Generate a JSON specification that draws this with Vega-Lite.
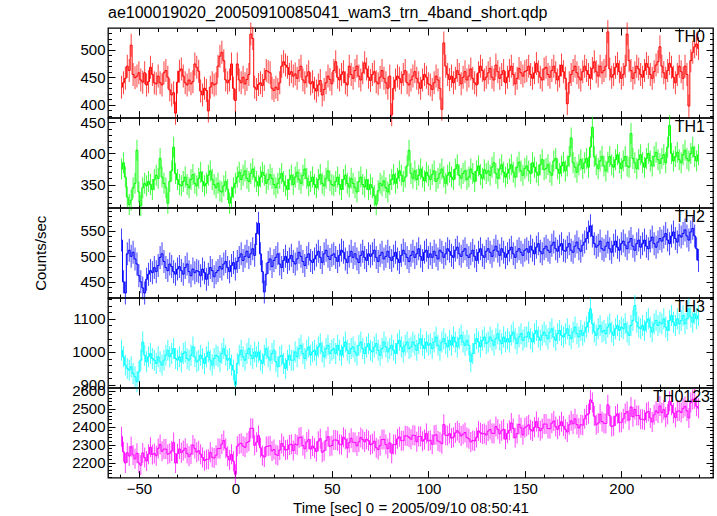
{
"$schema": "https://vega.github.io/schema/vega-lite/v6.json",
"padding": {"left": 33, "top": 4, "right": 6, "bottom": 2},
"title": {"text": "ae100019020_20050910085041_wam3_trn_4band_short.qdp", "anchor": "start", "frame": "group", "fontSize": 16, "fontWeight": "normal", "font": "Liberation Sans", "color": "black", "offset": -1},
"data": {"values": [
{"t":-59,"TH0":432,"TH1":375,"TH2":532,"TH3":1005,"TH0123":2344},
{"t":-58,"TH0":440,"TH1":385,"TH2":450,"TH3":985,"TH0123":2260},
{"t":-57,"TH0":448,"TH1":362,"TH2":428,"TH3":960,"TH0123":2198},
{"t":-56,"TH0":470,"TH1":330,"TH2":505,"TH3":950,"TH0123":2255},
{"t":-55,"TH0":462,"TH1":318,"TH2":512,"TH3":945,"TH0123":2237},
{"t":-54,"TH0":508,"TH1":325,"TH2":500,"TH3":955,"TH0123":2288},
{"t":-53,"TH0":455,"TH1":345,"TH2":508,"TH3":935,"TH0123":2243},
{"t":-52,"TH0":449,"TH1":352,"TH2":495,"TH3":925,"TH0123":2221},
{"t":-51,"TH0":452,"TH1":405,"TH2":485,"TH3":910,"TH0123":2252},
{"t":-50,"TH0":458,"TH1":338,"TH2":462,"TH3":940,"TH0123":2198},
{"t":-49,"TH0":445,"TH1":316,"TH2":450,"TH3":975,"TH0123":2186},
{"t":-48,"TH0":441,"TH1":345,"TH2":438,"TH3":1030,"TH0123":2254},
{"t":-47,"TH0":458,"TH1":352,"TH2":428,"TH3":990,"TH0123":2228},
{"t":-46,"TH0":436,"TH1":348,"TH2":455,"TH3":970,"TH0123":2209},
{"t":-45,"TH0":442,"TH1":355,"TH2":465,"TH3":985,"TH0123":2247},
{"t":-44,"TH0":468,"TH1":350,"TH2":472,"TH3":995,"TH0123":2285},
{"t":-43,"TH0":455,"TH1":342,"TH2":468,"TH3":980,"TH0123":2245},
{"t":-42,"TH0":440,"TH1":358,"TH2":478,"TH3":975,"TH0123":2251},
{"t":-41,"TH0":438,"TH1":365,"TH2":470,"TH3":965,"TH0123":2238},
{"t":-40,"TH0":452,"TH1":360,"TH2":482,"TH3":985,"TH0123":2279},
{"t":-39,"TH0":440,"TH1":392,"TH2":498,"TH3":970,"TH0123":2300},
{"t":-38,"TH0":436,"TH1":362,"TH2":505,"TH3":960,"TH0123":2263},
{"t":-37,"TH0":458,"TH1":352,"TH2":490,"TH3":975,"TH0123":2275},
{"t":-36,"TH0":462,"TH1":345,"TH2":478,"TH3":990,"TH0123":2275},
{"t":-35,"TH0":450,"TH1":320,"TH2":472,"TH3":1005,"TH0123":2247},
{"t":-34,"TH0":427,"TH1":355,"TH2":485,"TH3":985,"TH0123":2252},
{"t":-33,"TH0":418,"TH1":372,"TH2":480,"TH3":995,"TH0123":2265},
{"t":-32,"TH0":422,"TH1":410,"TH2":470,"TH3":1010,"TH0123":2312},
{"t":-31,"TH0":385,"TH1":368,"TH2":465,"TH3":980,"TH0123":2198},
{"t":-30,"TH0":441,"TH1":358,"TH2":475,"TH3":975,"TH0123":2249},
{"t":-29,"TH0":461,"TH1":350,"TH2":480,"TH3":985,"TH0123":2276},
{"t":-28,"TH0":465,"TH1":348,"TH2":472,"TH3":970,"TH0123":2255},
{"t":-27,"TH0":452,"TH1":355,"TH2":465,"TH3":995,"TH0123":2267},
{"t":-26,"TH0":440,"TH1":362,"TH2":478,"TH3":1000,"TH0123":2280},
{"t":-25,"TH0":436,"TH1":350,"TH2":485,"TH3":980,"TH0123":2251},
{"t":-24,"TH0":445,"TH1":345,"TH2":470,"TH3":975,"TH0123":2235},
{"t":-23,"TH0":438,"TH1":358,"TH2":462,"TH3":990,"TH0123":2248},
{"t":-22,"TH0":442,"TH1":366,"TH2":475,"TH3":1015,"TH0123":2298},
{"t":-21,"TH0":474,"TH1":352,"TH2":468,"TH3":985,"TH0123":2279},
{"t":-20,"TH0":468,"TH1":348,"TH2":472,"TH3":970,"TH0123":2258},
{"t":-19,"TH0":461,"TH1":360,"TH2":470,"TH3":975,"TH0123":2266},
{"t":-18,"TH0":425,"TH1":370,"TH2":462,"TH3":990,"TH0123":2247},
{"t":-17,"TH0":418,"TH1":355,"TH2":475,"TH3":980,"TH0123":2228},
{"t":-16,"TH0":430,"TH1":348,"TH2":468,"TH3":965,"TH0123":2211},
{"t":-15,"TH0":426,"TH1":352,"TH2":455,"TH3":985,"TH0123":2218},
{"t":-14,"TH0":389,"TH1":365,"TH2":465,"TH3":1000,"TH0123":2219},
{"t":-13,"TH0":432,"TH1":372,"TH2":478,"TH3":975,"TH0123":2257},
{"t":-12,"TH0":440,"TH1":358,"TH2":472,"TH3":960,"TH0123":2230},
{"t":-11,"TH0":436,"TH1":350,"TH2":460,"TH3":980,"TH0123":2226},
{"t":-10,"TH0":438,"TH1":345,"TH2":468,"TH3":990,"TH0123":2241},
{"t":-9,"TH0":470,"TH1":352,"TH2":472,"TH3":985,"TH0123":2279},
{"t":-8,"TH0":488,"TH1":340,"TH2":480,"TH3":970,"TH0123":2278},
{"t":-7,"TH0":495,"TH1":338,"TH2":475,"TH3":995,"TH0123":2303},
{"t":-6,"TH0":480,"TH1":348,"TH2":485,"TH3":1010,"TH0123":2323},
{"t":-5,"TH0":445,"TH1":355,"TH2":490,"TH3":990,"TH0123":2280},
{"t":-4,"TH0":440,"TH1":342,"TH2":478,"TH3":975,"TH0123":2235},
{"t":-3,"TH0":445,"TH1":320,"TH2":470,"TH3":980,"TH0123":2215},
{"t":-2,"TH0":474,"TH1":330,"TH2":482,"TH3":960,"TH0123":2246},
{"t":-1,"TH0":430,"TH1":345,"TH2":488,"TH3":945,"TH0123":2208},
{"t":0,"TH0":408,"TH1":352,"TH2":475,"TH3":900,"TH0123":2135},
{"t":1,"TH0":474,"TH1":362,"TH2":490,"TH3":965,"TH0123":2291},
{"t":2,"TH0":445,"TH1":370,"TH2":498,"TH3":990,"TH0123":2303},
{"t":3,"TH0":440,"TH1":358,"TH2":505,"TH3":1005,"TH0123":2308},
{"t":4,"TH0":450,"TH1":365,"TH2":492,"TH3":985,"TH0123":2292},
{"t":5,"TH0":438,"TH1":372,"TH2":500,"TH3":975,"TH0123":2285},
{"t":6,"TH0":446,"TH1":360,"TH2":510,"TH3":995,"TH0123":2311},
{"t":7,"TH0":455,"TH1":355,"TH2":498,"TH3":1010,"TH0123":2318},
{"t":8,"TH0":528,"TH1":368,"TH2":505,"TH3":990,"TH0123":2391},
{"t":9,"TH0":520,"TH1":375,"TH2":515,"TH3":980,"TH0123":2390},
{"t":10,"TH0":432,"TH1":362,"TH2":502,"TH3":1000,"TH0123":2296},
{"t":11,"TH0":428,"TH1":355,"TH2":545,"TH3":985,"TH0123":2313},
{"t":12,"TH0":437,"TH1":348,"TH2":565,"TH3":1000,"TH0123":2350},
{"t":13,"TH0":440,"TH1":362,"TH2":505,"TH3":975,"TH0123":2282},
{"t":14,"TH0":435,"TH1":370,"TH2":470,"TH3":965,"TH0123":2240},
{"t":15,"TH0":446,"TH1":365,"TH2":430,"TH3":990,"TH0123":2231},
{"t":16,"TH0":462,"TH1":352,"TH2":465,"TH3":1010,"TH0123":2289},
{"t":17,"TH0":460,"TH1":358,"TH2":488,"TH3":985,"TH0123":2291},
{"t":18,"TH0":458,"TH1":366,"TH2":495,"TH3":975,"TH0123":2294},
{"t":19,"TH0":430,"TH1":360,"TH2":480,"TH3":995,"TH0123":2265},
{"t":20,"TH0":426,"TH1":350,"TH2":492,"TH3":1005,"TH0123":2273},
{"t":21,"TH0":432,"TH1":345,"TH2":498,"TH3":970,"TH0123":2245},
{"t":22,"TH0":428,"TH1":352,"TH2":505,"TH3":955,"TH0123":2240},
{"t":23,"TH0":440,"TH1":360,"TH2":485,"TH3":985,"TH0123":2270},
{"t":24,"TH0":470,"TH1":368,"TH2":478,"TH3":990,"TH0123":2306},
{"t":25,"TH0":478,"TH1":355,"TH2":492,"TH3":965,"TH0123":2290},
{"t":26,"TH0":472,"TH1":348,"TH2":500,"TH3":950,"TH0123":2270},
{"t":27,"TH0":468,"TH1":342,"TH2":488,"TH3":975,"TH0123":2273},
{"t":28,"TH0":455,"TH1":358,"TH2":495,"TH3":990,"TH0123":2298},
{"t":29,"TH0":460,"TH1":365,"TH2":502,"TH3":975,"TH0123":2302},
{"t":30,"TH0":452,"TH1":350,"TH2":490,"TH3":975,"TH0123":2267},
{"t":31,"TH0":456,"TH1":362,"TH2":485,"TH3":1000,"TH0123":2303},
{"t":32,"TH0":448,"TH1":370,"TH2":495,"TH3":985,"TH0123":2298},
{"t":33,"TH0":462,"TH1":358,"TH2":508,"TH3":1010,"TH0123":2338},
{"t":34,"TH0":470,"TH1":352,"TH2":500,"TH3":1020,"TH0123":2342},
{"t":35,"TH0":445,"TH1":365,"TH2":490,"TH3":995,"TH0123":2295},
{"t":36,"TH0":440,"TH1":375,"TH2":482,"TH3":980,"TH0123":2277},
{"t":37,"TH0":452,"TH1":360,"TH2":498,"TH3":1005,"TH0123":2315},
{"t":38,"TH0":460,"TH1":348,"TH2":505,"TH3":1015,"TH0123":2328},
{"t":39,"TH0":438,"TH1":355,"TH2":492,"TH3":990,"TH0123":2275},
{"t":40,"TH0":442,"TH1":362,"TH2":488,"TH3":1000,"TH0123":2292},
{"t":41,"TH0":430,"TH1":350,"TH2":495,"TH3":1005,"TH0123":2280},
{"t":42,"TH0":425,"TH1":345,"TH2":502,"TH3":990,"TH0123":2262},
{"t":43,"TH0":436,"TH1":358,"TH2":510,"TH3":1015,"TH0123":2319},
{"t":44,"TH0":444,"TH1":366,"TH2":498,"TH3":1025,"TH0123":2333},
{"t":45,"TH0":418,"TH1":352,"TH2":488,"TH3":1000,"TH0123":2258},
{"t":46,"TH0":428,"TH1":348,"TH2":505,"TH3":985,"TH0123":2266},
{"t":47,"TH0":440,"TH1":360,"TH2":512,"TH3":1010,"TH0123":2322},
{"t":48,"TH0":452,"TH1":372,"TH2":500,"TH3":1020,"TH0123":2344},
{"t":49,"TH0":446,"TH1":356,"TH2":494,"TH3":995,"TH0123":2291},
{"t":50,"TH0":438,"TH1":350,"TH2":502,"TH3":1005,"TH0123":2295},
{"t":51,"TH0":462,"TH1":348,"TH2":505,"TH3":1010,"TH0123":2325},
{"t":52,"TH0":478,"TH1":355,"TH2":498,"TH3":995,"TH0123":2326},
{"t":53,"TH0":450,"TH1":362,"TH2":490,"TH3":1020,"TH0123":2322},
{"t":54,"TH0":445,"TH1":350,"TH2":502,"TH3":1005,"TH0123":2302},
{"t":55,"TH0":455,"TH1":342,"TH2":512,"TH3":990,"TH0123":2299},
{"t":56,"TH0":460,"TH1":358,"TH2":508,"TH3":1015,"TH0123":2341},
{"t":57,"TH0":440,"TH1":365,"TH2":495,"TH3":1030,"TH0123":2330},
{"t":58,"TH0":436,"TH1":352,"TH2":488,"TH3":1005,"TH0123":2281},
{"t":59,"TH0":470,"TH1":346,"TH2":500,"TH3":995,"TH0123":2311},
{"t":60,"TH0":455,"TH1":360,"TH2":510,"TH3":1010,"TH0123":2335},
{"t":61,"TH0":448,"TH1":352,"TH2":498,"TH3":1015,"TH0123":2313},
{"t":62,"TH0":462,"TH1":345,"TH2":505,"TH3":1000,"TH0123":2312},
{"t":63,"TH0":470,"TH1":338,"TH2":495,"TH3":990,"TH0123":2293},
{"t":64,"TH0":452,"TH1":355,"TH2":488,"TH3":1020,"TH0123":2315},
{"t":65,"TH0":445,"TH1":362,"TH2":502,"TH3":1030,"TH0123":2339},
{"t":66,"TH0":458,"TH1":350,"TH2":510,"TH3":1010,"TH0123":2328},
{"t":67,"TH0":476,"TH1":346,"TH2":498,"TH3":995,"TH0123":2315},
{"t":68,"TH0":465,"TH1":358,"TH2":492,"TH3":1015,"TH0123":2330},
{"t":69,"TH0":450,"TH1":342,"TH2":505,"TH3":1025,"TH0123":2322},
{"t":70,"TH0":444,"TH1":350,"TH2":500,"TH3":1005,"TH0123":2299},
{"t":71,"TH0":455,"TH1":345,"TH2":505,"TH3":1000,"TH0123":2305},
{"t":72,"TH0":460,"TH1":332,"TH2":512,"TH3":1015,"TH0123":2319},
{"t":73,"TH0":442,"TH1":318,"TH2":498,"TH3":1025,"TH0123":2283},
{"t":74,"TH0":438,"TH1":340,"TH2":490,"TH3":1005,"TH0123":2273},
{"t":75,"TH0":450,"TH1":352,"TH2":502,"TH3":990,"TH0123":2294},
{"t":76,"TH0":462,"TH1":348,"TH2":508,"TH3":1010,"TH0123":2328},
{"t":77,"TH0":448,"TH1":356,"TH2":495,"TH3":1030,"TH0123":2329},
{"t":78,"TH0":440,"TH1":345,"TH2":500,"TH3":1015,"TH0123":2300},
{"t":79,"TH0":430,"TH1":338,"TH2":510,"TH3":1000,"TH0123":2278},
{"t":80,"TH0":452,"TH1":350,"TH2":498,"TH3":1010,"TH0123":2310},
{"t":81,"TH0":382,"TH1":358,"TH2":492,"TH3":1020,"TH0123":2252},
{"t":82,"TH0":430,"TH1":366,"TH2":500,"TH3":1005,"TH0123":2301},
{"t":83,"TH0":445,"TH1":352,"TH2":508,"TH3":995,"TH0123":2300},
{"t":84,"TH0":452,"TH1":360,"TH2":495,"TH3":1025,"TH0123":2332},
{"t":85,"TH0":448,"TH1":372,"TH2":488,"TH3":1035,"TH0123":2343},
{"t":86,"TH0":440,"TH1":365,"TH2":502,"TH3":1015,"TH0123":2322},
{"t":87,"TH0":455,"TH1":355,"TH2":512,"TH3":1000,"TH0123":2322},
{"t":88,"TH0":462,"TH1":362,"TH2":505,"TH3":1020,"TH0123":2349},
{"t":89,"TH0":440,"TH1":380,"TH2":498,"TH3":1030,"TH0123":2348},
{"t":90,"TH0":436,"TH1":405,"TH2":490,"TH3":1010,"TH0123":2341},
{"t":91,"TH0":445,"TH1":368,"TH2":502,"TH3":1015,"TH0123":2330},
{"t":92,"TH0":452,"TH1":360,"TH2":510,"TH3":1030,"TH0123":2352},
{"t":93,"TH0":460,"TH1":372,"TH2":498,"TH3":1020,"TH0123":2350},
{"t":94,"TH0":448,"TH1":358,"TH2":505,"TH3":1005,"TH0123":2316},
{"t":95,"TH0":440,"TH1":365,"TH2":515,"TH3":1025,"TH0123":2345},
{"t":96,"TH0":430,"TH1":375,"TH2":500,"TH3":1040,"TH0123":2345},
{"t":97,"TH0":445,"TH1":362,"TH2":492,"TH3":1020,"TH0123":2319},
{"t":98,"TH0":455,"TH1":356,"TH2":508,"TH3":1010,"TH0123":2329},
{"t":99,"TH0":450,"TH1":370,"TH2":512,"TH3":1030,"TH0123":2362},
{"t":100,"TH0":438,"TH1":364,"TH2":498,"TH3":1020,"TH0123":2320},
{"t":101,"TH0":436,"TH1":358,"TH2":505,"TH3":1025,"TH0123":2324},
{"t":102,"TH0":428,"TH1":366,"TH2":498,"TH3":1010,"TH0123":2302},
{"t":103,"TH0":440,"TH1":372,"TH2":510,"TH3":1030,"TH0123":2352},
{"t":104,"TH0":452,"TH1":355,"TH2":502,"TH3":1045,"TH0123":2354},
{"t":105,"TH0":445,"TH1":360,"TH2":495,"TH3":1020,"TH0123":2320},
{"t":106,"TH0":430,"TH1":368,"TH2":512,"TH3":1005,"TH0123":2315},
{"t":107,"TH0":392,"TH1":375,"TH2":508,"TH3":1030,"TH0123":2305},
{"t":108,"TH0":512,"TH1":362,"TH2":498,"TH3":1040,"TH0123":2412},
{"t":109,"TH0":470,"TH1":352,"TH2":505,"TH3":1025,"TH0123":2352},
{"t":110,"TH0":455,"TH1":365,"TH2":515,"TH3":1015,"TH0123":2350},
{"t":111,"TH0":446,"TH1":370,"TH2":510,"TH3":1035,"TH0123":2361},
{"t":112,"TH0":452,"TH1":362,"TH2":502,"TH3":1020,"TH0123":2336},
{"t":113,"TH0":440,"TH1":358,"TH2":498,"TH3":1045,"TH0123":2341},
{"t":114,"TH0":448,"TH1":375,"TH2":512,"TH3":1030,"TH0123":2365},
{"t":115,"TH0":462,"TH1":382,"TH2":518,"TH3":1015,"TH0123":2377},
{"t":116,"TH0":455,"TH1":365,"TH2":505,"TH3":1040,"TH0123":2365},
{"t":117,"TH0":438,"TH1":360,"TH2":500,"TH3":1050,"TH0123":2348},
{"t":118,"TH0":450,"TH1":368,"TH2":510,"TH3":1030,"TH0123":2358},
{"t":119,"TH0":460,"TH1":372,"TH2":515,"TH3":1020,"TH0123":2367},
{"t":120,"TH0":445,"TH1":358,"TH2":502,"TH3":1035,"TH0123":2340},
{"t":121,"TH0":452,"TH1":362,"TH2":498,"TH3":1020,"TH0123":2332},
{"t":122,"TH0":465,"TH1":375,"TH2":505,"TH3":970,"TH0123":2315},
{"t":123,"TH0":448,"TH1":368,"TH2":512,"TH3":995,"TH0123":2323},
{"t":124,"TH0":440,"TH1":355,"TH2":500,"TH3":1025,"TH0123":2320},
{"t":125,"TH0":436,"TH1":372,"TH2":492,"TH3":1040,"TH0123":2340},
{"t":126,"TH0":458,"TH1":380,"TH2":508,"TH3":1030,"TH0123":2376},
{"t":127,"TH0":470,"TH1":366,"TH2":515,"TH3":1015,"TH0123":2366},
{"t":128,"TH0":462,"TH1":360,"TH2":502,"TH3":1035,"TH0123":2359},
{"t":129,"TH0":445,"TH1":374,"TH2":498,"TH3":1045,"TH0123":2362},
{"t":130,"TH0":450,"TH1":368,"TH2":510,"TH3":1025,"TH0123":2353},
{"t":131,"TH0":458,"TH1":372,"TH2":515,"TH3":1030,"TH0123":2375},
{"t":132,"TH0":466,"TH1":365,"TH2":508,"TH3":1045,"TH0123":2384},
{"t":133,"TH0":450,"TH1":378,"TH2":500,"TH3":1035,"TH0123":2363},
{"t":134,"TH0":445,"TH1":385,"TH2":512,"TH3":1020,"TH0123":2362},
{"t":135,"TH0":472,"TH1":368,"TH2":520,"TH3":1040,"TH0123":2400},
{"t":136,"TH0":460,"TH1":360,"TH2":510,"TH3":1055,"TH0123":2385},
{"t":137,"TH0":448,"TH1":375,"TH2":502,"TH3":1035,"TH0123":2360},
{"t":138,"TH0":455,"TH1":382,"TH2":515,"TH3":1025,"TH0123":2377},
{"t":139,"TH0":462,"TH1":370,"TH2":508,"TH3":1045,"TH0123":2385},
{"t":140,"TH0":440,"TH1":362,"TH2":498,"TH3":1030,"TH0123":2330},
{"t":141,"TH0":450,"TH1":368,"TH2":505,"TH3":1040,"TH0123":2363},
{"t":142,"TH0":462,"TH1":375,"TH2":512,"TH3":1030,"TH0123":2379},
{"t":143,"TH0":470,"TH1":382,"TH2":518,"TH3":1050,"TH0123":2420},
{"t":144,"TH0":455,"TH1":370,"TH2":505,"TH3":1060,"TH0123":2390},
{"t":145,"TH0":438,"TH1":362,"TH2":498,"TH3":1040,"TH0123":2338},
{"t":146,"TH0":448,"TH1":378,"TH2":510,"TH3":1025,"TH0123":2361},
{"t":147,"TH0":466,"TH1":386,"TH2":515,"TH3":1045,"TH0123":2412},
{"t":148,"TH0":458,"TH1":372,"TH2":508,"TH3":1055,"TH0123":2393},
{"t":149,"TH0":452,"TH1":365,"TH2":502,"TH3":1035,"TH0123":2354},
{"t":150,"TH0":460,"TH1":376,"TH2":512,"TH3":1045,"TH0123":2393},
{"t":151,"TH0":462,"TH1":380,"TH2":515,"TH3":1045,"TH0123":2402},
{"t":152,"TH0":470,"TH1":372,"TH2":508,"TH3":1060,"TH0123":2410},
{"t":153,"TH0":455,"TH1":368,"TH2":520,"TH3":1040,"TH0123":2383},
{"t":154,"TH0":448,"TH1":385,"TH2":512,"TH3":1030,"TH0123":2375},
{"t":155,"TH0":458,"TH1":378,"TH2":505,"TH3":1055,"TH0123":2396},
{"t":156,"TH0":475,"TH1":370,"TH2":518,"TH3":1065,"TH0123":2428},
{"t":157,"TH0":460,"TH1":365,"TH2":525,"TH3":1045,"TH0123":2395},
{"t":158,"TH0":450,"TH1":382,"TH2":510,"TH3":1035,"TH0123":2377},
{"t":159,"TH0":445,"TH1":390,"TH2":505,"TH3":1050,"TH0123":2390},
{"t":160,"TH0":465,"TH1":374,"TH2":515,"TH3":1060,"TH0123":2414},
{"t":161,"TH0":468,"TH1":376,"TH2":520,"TH3":1050,"TH0123":2414},
{"t":162,"TH0":455,"TH1":382,"TH2":512,"TH3":1040,"TH0123":2389},
{"t":163,"TH0":450,"TH1":370,"TH2":508,"TH3":1060,"TH0123":2388},
{"t":164,"TH0":462,"TH1":365,"TH2":522,"TH3":1070,"TH0123":2419},
{"t":165,"TH0":470,"TH1":388,"TH2":528,"TH3":1045,"TH0123":2431},
{"t":166,"TH0":458,"TH1":392,"TH2":515,"TH3":1035,"TH0123":2400},
{"t":167,"TH0":445,"TH1":375,"TH2":510,"TH3":1055,"TH0123":2385},
{"t":168,"TH0":452,"TH1":368,"TH2":520,"TH3":1065,"TH0123":2405},
{"t":169,"TH0":472,"TH1":380,"TH2":525,"TH3":1050,"TH0123":2427},
{"t":170,"TH0":460,"TH1":386,"TH2":512,"TH3":1045,"TH0123":2403},
{"t":171,"TH0":448,"TH1":372,"TH2":510,"TH3":1055,"TH0123":2385},
{"t":172,"TH0":402,"TH1":380,"TH2":518,"TH3":1070,"TH0123":2370},
{"t":173,"TH0":440,"TH1":395,"TH2":525,"TH3":1050,"TH0123":2410},
{"t":174,"TH0":455,"TH1":425,"TH2":512,"TH3":1040,"TH0123":2432},
{"t":175,"TH0":462,"TH1":385,"TH2":508,"TH3":1060,"TH0123":2415},
{"t":176,"TH0":470,"TH1":378,"TH2":520,"TH3":1075,"TH0123":2443},
{"t":177,"TH0":458,"TH1":370,"TH2":528,"TH3":1055,"TH0123":2411},
{"t":178,"TH0":450,"TH1":382,"TH2":515,"TH3":1045,"TH0123":2392},
{"t":179,"TH0":445,"TH1":390,"TH2":510,"TH3":1065,"TH0123":2410},
{"t":180,"TH0":460,"TH1":376,"TH2":522,"TH3":1050,"TH0123":2408},
{"t":181,"TH0":470,"TH1":385,"TH2":528,"TH3":1060,"TH0123":2443},
{"t":182,"TH0":462,"TH1":392,"TH2":535,"TH3":1075,"TH0123":2464},
{"t":183,"TH0":455,"TH1":378,"TH2":548,"TH3":1090,"TH0123":2471},
{"t":184,"TH0":448,"TH1":410,"TH2":560,"TH3":1130,"TH0123":2548},
{"t":185,"TH0":466,"TH1":442,"TH2":540,"TH3":1085,"TH0123":2533},
{"t":186,"TH0":478,"TH1":395,"TH2":525,"TH3":1060,"TH0123":2458},
{"t":187,"TH0":460,"TH1":382,"TH2":518,"TH3":1050,"TH0123":2410},
{"t":188,"TH0":452,"TH1":376,"TH2":522,"TH3":1070,"TH0123":2420},
{"t":189,"TH0":470,"TH1":388,"TH2":530,"TH3":1080,"TH0123":2468},
{"t":190,"TH0":458,"TH1":395,"TH2":515,"TH3":1060,"TH0123":2428},
{"t":191,"TH0":462,"TH1":380,"TH2":512,"TH3":1065,"TH0123":2419},
{"t":192,"TH0":470,"TH1":372,"TH2":520,"TH3":1055,"TH0123":2417},
{"t":193,"TH0":532,"TH1":386,"TH2":528,"TH3":1075,"TH0123":2521},
{"t":194,"TH0":465,"TH1":395,"TH2":515,"TH3":1085,"TH0123":2460},
{"t":195,"TH0":450,"TH1":382,"TH2":508,"TH3":1060,"TH0123":2400},
{"t":196,"TH0":455,"TH1":378,"TH2":522,"TH3":1050,"TH0123":2405},
{"t":197,"TH0":468,"TH1":390,"TH2":530,"TH3":1070,"TH0123":2458},
{"t":198,"TH0":475,"TH1":398,"TH2":518,"TH3":1080,"TH0123":2471},
{"t":199,"TH0":460,"TH1":385,"TH2":512,"TH3":1065,"TH0123":2422},
{"t":200,"TH0":448,"TH1":376,"TH2":525,"TH3":1075,"TH0123":2424},
{"t":201,"TH0":455,"TH1":388,"TH2":530,"TH3":1070,"TH0123":2443},
{"t":202,"TH0":470,"TH1":395,"TH2":522,"TH3":1085,"TH0123":2472},
{"t":203,"TH0":528,"TH1":380,"TH2":515,"TH3":1060,"TH0123":2483},
{"t":204,"TH0":480,"TH1":378,"TH2":528,"TH3":1050,"TH0123":2436},
{"t":205,"TH0":462,"TH1":432,"TH2":535,"TH3":1080,"TH0123":2509},
{"t":206,"TH0":448,"TH1":392,"TH2":520,"TH3":1095,"TH0123":2455},
{"t":207,"TH0":458,"TH1":385,"TH2":512,"TH3":1140,"TH0123":2495},
{"t":208,"TH0":470,"TH1":376,"TH2":525,"TH3":1090,"TH0123":2461},
{"t":209,"TH0":465,"TH1":390,"TH2":532,"TH3":1075,"TH0123":2462},
{"t":210,"TH0":455,"TH1":398,"TH2":518,"TH3":1070,"TH0123":2441},
{"t":211,"TH0":450,"TH1":385,"TH2":525,"TH3":1080,"TH0123":2440},
{"t":212,"TH0":462,"TH1":378,"TH2":532,"TH3":1065,"TH0123":2437},
{"t":213,"TH0":475,"TH1":392,"TH2":520,"TH3":1090,"TH0123":2477},
{"t":214,"TH0":468,"TH1":400,"TH2":515,"TH3":1100,"TH0123":2483},
{"t":215,"TH0":455,"TH1":388,"TH2":530,"TH3":1075,"TH0123":2448},
{"t":216,"TH0":448,"TH1":380,"TH2":538,"TH3":1060,"TH0123":2426},
{"t":217,"TH0":460,"TH1":395,"TH2":525,"TH3":1085,"TH0123":2465},
{"t":218,"TH0":472,"TH1":402,"TH2":518,"TH3":1095,"TH0123":2487},
{"t":219,"TH0":478,"TH1":390,"TH2":528,"TH3":1080,"TH0123":2476},
{"t":220,"TH0":505,"TH1":384,"TH2":535,"TH3":1090,"TH0123":2514},
{"t":221,"TH0":470,"TH1":392,"TH2":530,"TH3":1085,"TH0123":2477},
{"t":222,"TH0":458,"TH1":398,"TH2":538,"TH3":1100,"TH0123":2494},
{"t":223,"TH0":448,"TH1":385,"TH2":545,"TH3":1075,"TH0123":2453},
{"t":224,"TH0":462,"TH1":410,"TH2":532,"TH3":1065,"TH0123":2469},
{"t":225,"TH0":475,"TH1":445,"TH2":525,"TH3":1095,"TH0123":2540},
{"t":226,"TH0":468,"TH1":400,"TH2":540,"TH3":1110,"TH0123":2518},
{"t":227,"TH0":450,"TH1":388,"TH2":548,"TH3":1090,"TH0123":2476},
{"t":228,"TH0":440,"TH1":395,"TH2":535,"TH3":1080,"TH0123":2450},
{"t":229,"TH0":455,"TH1":402,"TH2":528,"TH3":1100,"TH0123":2485},
{"t":230,"TH0":470,"TH1":390,"TH2":542,"TH3":1085,"TH0123":2487},
{"t":231,"TH0":460,"TH1":385,"TH2":538,"TH3":1095,"TH0123":2478},
{"t":232,"TH0":448,"TH1":398,"TH2":545,"TH3":1110,"TH0123":2501},
{"t":233,"TH0":470,"TH1":405,"TH2":552,"TH3":1085,"TH0123":2512},
{"t":234,"TH0":455,"TH1":392,"TH2":540,"TH3":1100,"TH0123":2487},
{"t":235,"TH0":398,"TH1":388,"TH2":532,"TH3":1130,"TH0123":2448},
{"t":236,"TH0":480,"TH1":400,"TH2":548,"TH3":1105,"TH0123":2533},
{"t":237,"TH0":495,"TH1":410,"TH2":555,"TH3":1090,"TH0123":2550},
{"t":238,"TH0":505,"TH1":395,"TH2":540,"TH3":1115,"TH0123":2555},
{"t":239,"TH0":510,"TH1":388,"TH2":515,"TH3":1100,"TH0123":2513},
{"t":240,"TH0":502,"TH1":398,"TH2":492,"TH3":1110,"TH0123":2502}
]},
"spacing": 0,
"bounds": "flush",
"vconcat": [
{"width": 605, "height": 89.6,
 "layer": [
  {"mark": {"type": "tick", "orient": "vertical", "size": 23, "thickness": 1, "color": "#ff0000", "opacity": 0.75},
   "encoding": {
    "x": {"field": "t", "type": "quantitative", "scale": {"domain": [-66, 247.5], "nice": false, "zero": false},
      "axis": {"orient": "bottom", "values": [-60,-50,-40,-30,-20,-10,0,10,20,30,40,50,60,70,80,90,100,110,120,130,140,150,160,170,180,190,200,210,220,230,240], "labels": false, "title": null, "tickSize": {"condition": {"test": "datum.value % 50 === 0", "value": -7}, "value": -3.5}}},
    "y": {"field": "TH0", "type": "quantitative", "scale": {"domain": [377, 539], "nice": false, "zero": false},
      "axis": {"orient": "left", "values": [380,390,400,410,420,430,440,450,460,470,480,490,500,510,520,530], "format": "d", "labelExpr": "datum.value % 50 === 0 ? datum.label : ''", "labelPadding": 10, "title": null, "tickSize": {"condition": {"test": "datum.value % 50 === 0", "value": -7}, "value": -3.5}}}
   }},
  {"mark": {"type": "line", "interpolate": "step", "color": "#ff0000", "strokeWidth": 1},
   "encoding": {
    "x": {"field": "t", "type": "quantitative",
      "axis": {"orient": "top", "values": [-60,-50,-40,-30,-20,-10,0,10,20,30,40,50,60,70,80,90,100,110,120,130,140,150,160,170,180,190,200,210,220,230,240], "labels": false, "title": null, "tickSize": {"condition": {"test": "datum.value % 50 === 0", "value": -7}, "value": -3.5}}},
    "y": {"field": "TH0", "type": "quantitative",
      "axis": {"orient": "right", "values": [380,390,400,410,420,430,440,450,460,470,480,490,500,510,520,530], "labels": false, "title": null, "tickSize": {"condition": {"test": "datum.value % 50 === 0", "value": -7}, "value": -3.5}}}
   }},
  {"data": {"values": [{"label": "TH0"}]},
   "mark": {"type": "text", "align": "right", "baseline": "top", "dx": -8, "dy": 1, "fontSize": 16, "font": "Liberation Sans", "color": "black"},
   "encoding": {"text": {"field": "label"}, "x": {"datum": 247.5, "type": "quantitative", "axis": null}, "y": {"datum": 539, "type": "quantitative", "axis": null}}}
 ],
 "resolve": {"axis": {"x": "independent", "y": "independent"}}
},
{"width": 605, "height": 89.6,
 "layer": [
  {"mark": {"type": "tick", "orient": "vertical", "size": 21, "thickness": 1, "color": "#00ff00", "opacity": 0.75},
   "encoding": {
    "x": {"field": "t", "type": "quantitative", "scale": {"domain": [-66, 247.5], "nice": false, "zero": false},
      "axis": {"orient": "bottom", "values": [-60,-50,-40,-30,-20,-10,0,10,20,30,40,50,60,70,80,90,100,110,120,130,140,150,160,170,180,190,200,210,220,230,240], "labels": false, "title": null, "tickSize": {"condition": {"test": "datum.value % 50 === 0", "value": -7}, "value": -3.5}}},
    "y": {"field": "TH1", "type": "quantitative", "scale": {"domain": [313, 457], "nice": false, "zero": false},
      "axis": {"orient": "left", "values": [320,330,340,350,360,370,380,390,400,410,420,430,440,450], "format": "d", "labelExpr": "datum.value % 50 === 0 ? datum.label : ''", "labelPadding": 10, "title": null, "tickSize": {"condition": {"test": "datum.value % 50 === 0", "value": -7}, "value": -3.5}}}
   }},
  {"mark": {"type": "line", "interpolate": "step", "color": "#00ff00", "strokeWidth": 1},
   "encoding": {
    "x": {"field": "t", "type": "quantitative",
      "axis": {"orient": "top", "values": [-60,-50,-40,-30,-20,-10,0,10,20,30,40,50,60,70,80,90,100,110,120,130,140,150,160,170,180,190,200,210,220,230,240], "labels": false, "title": null, "tickSize": {"condition": {"test": "datum.value % 50 === 0", "value": -7}, "value": -3.5}}},
    "y": {"field": "TH1", "type": "quantitative",
      "axis": {"orient": "right", "values": [320,330,340,350,360,370,380,390,400,410,420,430,440,450], "labels": false, "title": null, "tickSize": {"condition": {"test": "datum.value % 50 === 0", "value": -7}, "value": -3.5}}}
   }},
  {"data": {"values": [{"label": "TH1"}]},
   "mark": {"type": "text", "align": "right", "baseline": "top", "dx": -8, "dy": 1, "fontSize": 16, "font": "Liberation Sans", "color": "black"},
   "encoding": {"text": {"field": "label"}, "x": {"datum": 247.5, "type": "quantitative", "axis": null}, "y": {"datum": 457, "type": "quantitative", "axis": null}}}
 ],
 "resolve": {"axis": {"x": "independent", "y": "independent"}}
},
{"width": 605, "height": 89.6,
 "layer": [
  {"mark": {"type": "tick", "orient": "vertical", "size": 23, "thickness": 1, "color": "#0000ff", "opacity": 0.75},
   "encoding": {
    "x": {"field": "t", "type": "quantitative", "scale": {"domain": [-66, 247.5], "nice": false, "zero": false},
      "axis": {"orient": "bottom", "values": [-60,-50,-40,-30,-20,-10,0,10,20,30,40,50,60,70,80,90,100,110,120,130,140,150,160,170,180,190,200,210,220,230,240], "labels": false, "title": null, "tickSize": {"condition": {"test": "datum.value % 50 === 0", "value": -7}, "value": -3.5}}},
    "y": {"field": "TH2", "type": "quantitative", "scale": {"domain": [419, 595], "nice": false, "zero": false},
      "axis": {"orient": "left", "values": [420,430,440,450,460,470,480,490,500,510,520,530,540,550,560,570,580,590], "format": "d", "labelExpr": "datum.value % 50 === 0 ? datum.label : ''", "labelPadding": 10, "title": "Counts/sec", "titleFontSize": 15, "titleFontWeight": "normal", "titlePadding": 31, "tickSize": {"condition": {"test": "datum.value % 50 === 0", "value": -7}, "value": -3.5}}}
   }},
  {"mark": {"type": "line", "interpolate": "step", "color": "#0000ff", "strokeWidth": 1},
   "encoding": {
    "x": {"field": "t", "type": "quantitative",
      "axis": {"orient": "top", "values": [-60,-50,-40,-30,-20,-10,0,10,20,30,40,50,60,70,80,90,100,110,120,130,140,150,160,170,180,190,200,210,220,230,240], "labels": false, "title": null, "tickSize": {"condition": {"test": "datum.value % 50 === 0", "value": -7}, "value": -3.5}}},
    "y": {"field": "TH2", "type": "quantitative",
      "axis": {"orient": "right", "values": [420,430,440,450,460,470,480,490,500,510,520,530,540,550,560,570,580,590], "labels": false, "title": null, "tickSize": {"condition": {"test": "datum.value % 50 === 0", "value": -7}, "value": -3.5}}}
   }},
  {"data": {"values": [{"label": "TH2"}]},
   "mark": {"type": "text", "align": "right", "baseline": "top", "dx": -8, "dy": 1, "fontSize": 16, "font": "Liberation Sans", "color": "black"},
   "encoding": {"text": {"field": "label"}, "x": {"datum": 247.5, "type": "quantitative", "axis": null}, "y": {"datum": 595, "type": "quantitative", "axis": null}}}
 ],
 "resolve": {"axis": {"x": "independent", "y": "independent"}}
},
{"width": 605, "height": 89.6,
 "layer": [
  {"mark": {"type": "tick", "orient": "vertical", "size": 21, "thickness": 1, "color": "#00ffff", "opacity": 0.75},
   "encoding": {
    "x": {"field": "t", "type": "quantitative", "scale": {"domain": [-66, 247.5], "nice": false, "zero": false},
      "axis": {"orient": "bottom", "values": [-60,-50,-40,-30,-20,-10,0,10,20,30,40,50,60,70,80,90,100,110,120,130,140,150,160,170,180,190,200,210,220,230,240], "labels": false, "title": null, "tickSize": {"condition": {"test": "datum.value % 50 === 0", "value": -7}, "value": -3.5}}},
    "y": {"field": "TH3", "type": "quantitative", "scale": {"domain": [892, 1163], "nice": false, "zero": false},
      "axis": {"orient": "left", "values": [900,920,940,960,980,1000,1020,1040,1060,1080,1100,1120,1140,1160], "format": "d", "labelExpr": "datum.value % 100 === 0 ? datum.label : ''", "labelPadding": 10, "title": null, "tickSize": {"condition": {"test": "datum.value % 100 === 0", "value": -7}, "value": -3.5}}}
   }},
  {"mark": {"type": "line", "interpolate": "step", "color": "#00ffff", "strokeWidth": 1},
   "encoding": {
    "x": {"field": "t", "type": "quantitative",
      "axis": {"orient": "top", "values": [-60,-50,-40,-30,-20,-10,0,10,20,30,40,50,60,70,80,90,100,110,120,130,140,150,160,170,180,190,200,210,220,230,240], "labels": false, "title": null, "tickSize": {"condition": {"test": "datum.value % 50 === 0", "value": -7}, "value": -3.5}}},
    "y": {"field": "TH3", "type": "quantitative",
      "axis": {"orient": "right", "values": [900,920,940,960,980,1000,1020,1040,1060,1080,1100,1120,1140,1160], "labels": false, "title": null, "tickSize": {"condition": {"test": "datum.value % 100 === 0", "value": -7}, "value": -3.5}}}
   }},
  {"data": {"values": [{"label": "TH3"}]},
   "mark": {"type": "text", "align": "right", "baseline": "top", "dx": -8, "dy": 1, "fontSize": 16, "font": "Liberation Sans", "color": "black"},
   "encoding": {"text": {"field": "label"}, "x": {"datum": 247.5, "type": "quantitative", "axis": null}, "y": {"datum": 1163, "type": "quantitative", "axis": null}}}
 ],
 "resolve": {"axis": {"x": "independent", "y": "independent"}}
},
{"width": 605, "height": 89.6,
 "layer": [
  {"mark": {"type": "tick", "orient": "vertical", "size": 20, "thickness": 1, "color": "#ff00ff", "opacity": 0.75},
   "encoding": {
    "x": {"field": "t", "type": "quantitative", "scale": {"domain": [-66, 247.5], "nice": false, "zero": false},
      "axis": {"orient": "bottom", "values": [-60,-50,-40,-30,-20,-10,0,10,20,30,40,50,60,70,80,90,100,110,120,130,140,150,160,170,180,190,200,210,220,230,240], "format": "d", "labelExpr": "datum.value % 50 === 0 ? datum.label : ''", "labelFlush": false, "labelOverlap": false, "labelPadding": 11, "title": "Time [sec] 0 = 2005/09/10 08:50:41", "titleFontSize": 15, "titleFontWeight": "normal", "titlePadding": 0, "tickSize": {"condition": {"test": "datum.value % 50 === 0", "value": -7}, "value": -3.5}}},
    "y": {"field": "TH0123", "type": "quantitative", "scale": {"domain": [2117, 2614], "nice": false, "zero": false},
      "axis": {"orient": "left", "values": [2120,2140,2160,2180,2200,2220,2240,2260,2280,2300,2320,2340,2360,2380,2400,2420,2440,2460,2480,2500,2520,2540,2560,2580,2600], "format": "d", "labelExpr": "datum.value % 100 === 0 ? datum.label : ''", "labelPadding": 10, "title": null, "tickSize": {"condition": {"test": "datum.value % 100 === 0", "value": -7}, "value": -3.5}}}
   }},
  {"mark": {"type": "line", "interpolate": "step", "color": "#ff00ff", "strokeWidth": 1},
   "encoding": {
    "x": {"field": "t", "type": "quantitative",
      "axis": {"orient": "top", "values": [-60,-50,-40,-30,-20,-10,0,10,20,30,40,50,60,70,80,90,100,110,120,130,140,150,160,170,180,190,200,210,220,230,240], "labels": false, "title": null, "tickSize": {"condition": {"test": "datum.value % 50 === 0", "value": -7}, "value": -3.5}}},
    "y": {"field": "TH0123", "type": "quantitative",
      "axis": {"orient": "right", "values": [2120,2140,2160,2180,2200,2220,2240,2260,2280,2300,2320,2340,2360,2380,2400,2420,2440,2460,2480,2500,2520,2540,2560,2580,2600], "labels": false, "title": null, "tickSize": {"condition": {"test": "datum.value % 100 === 0", "value": -7}, "value": -3.5}}}
   }},
  {"data": {"values": [{"label": "TH0123"}]},
   "mark": {"type": "text", "align": "right", "baseline": "top", "dx": -3, "dy": 1, "fontSize": 16, "font": "Liberation Sans", "color": "black"},
   "encoding": {"text": {"field": "label"}, "x": {"datum": 247.5, "type": "quantitative", "axis": null}, "y": {"datum": 2614, "type": "quantitative", "axis": null}}}
 ],
 "resolve": {"axis": {"x": "independent", "y": "independent"}}
}
],
"config": {
 "font": "Liberation Sans",
 "view": {"stroke": "black", "strokeWidth": 1.3},
 "title": {"font": "Liberation Sans", "color": "black"},
 "axis": {"labelFont": "Liberation Sans", "labelFontSize": 15, "labelColor": "black", "tickColor": "black", "tickWidth": 1, "domain": false, "grid": false, "titleFont": "Liberation Sans", "titleColor": "black", "titleFontWeight": "normal", "titleFontSize": 15}
}
}
